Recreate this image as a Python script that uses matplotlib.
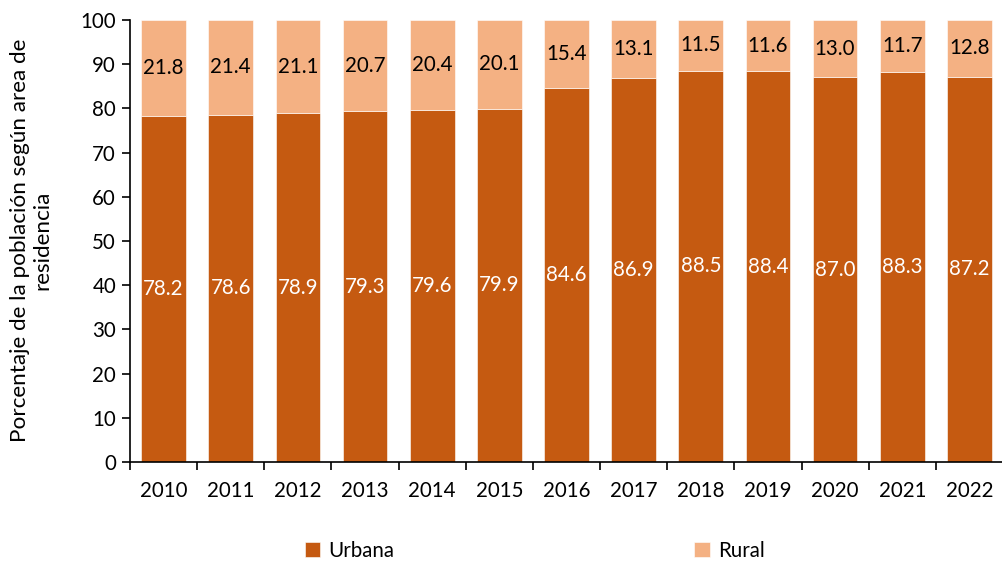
import matplotlib
matplotlib.use("Agg")
import matplotlib.pyplot as plt
import numpy as np

years = ["2010", "2011", "2012", "2013", "2014", "2015", "2016",
         "2017", "2018", "2019", "2020", "2021", "2022"]
urbana = [78.2, 78.6, 78.9, 79.3, 79.6, 79.9, 84.6, 86.9, 88.5, 88.4, 87.0, 88.3, 87.2]
rural = [21.8, 21.4, 21.1, 20.7, 20.4, 20.1, 15.4, 13.1, 11.5, 11.6, 13.0, 11.7, 12.8]

c_urb = "#C55A11"
c_rur = "#F4B183"

plt.rcParams['font.family'] = ['Lato', 'DejaVu Sans']
fs = 14.8

fig = plt.figure(figsize=(10.03, 5.64), dpi=100)
ax = fig.add_axes([130/1003, 102/564, 873/1003, 442/564])

x = np.arange(len(years))
w = 0.665
b1 = ax.bar(x, urbana, w, color=c_urb, label="Urbana", edgecolor="white", linewidth=0.4)
b2 = ax.bar(x, rural, w, bottom=urbana, color=c_rur, label="Rural", edgecolor="white", linewidth=0.4)

for xi, u, r in zip(x, urbana, rural):
    ax.text(xi, u / 2, f"{u:.1f}", ha="center", va="center", color="white", fontsize=fs)
    ax.text(xi, u + r / 2, f"{r:.1f}", ha="center", va="center", color="black", fontsize=fs)

ax.set_ylim(0, 100)
ax.set_xlim(-0.5, -0.5 + 873/67.7)
ax.set_yticks(range(0, 101, 10))
ax.set_xticks(x)
ax.set_xticklabels(years)
ax.set_xticks(np.arange(-0.5, len(years), 1), minor=True)
ax.tick_params(axis="x", which="major", length=0, pad=14, labelsize=fs)
ax.tick_params(axis="x", which="minor", length=6, width=1.2, direction="out")
ax.tick_params(axis="y", length=6, width=1.2, direction="out", labelsize=fs, pad=4)

for s in ["top", "right"]:
    ax.spines[s].set_visible(False)
for s in ["left", "bottom"]:
    ax.spines[s].set_linewidth(1.2)
    ax.spines[s].set_color("black")

fig.text(31/1003, 1 - 240/564, "Porcentaje de la población según area de\nresidencia",
         rotation=90, ha="center", va="center", fontsize=16.2, linespacing=1.15)

leg = fig.legend(handles=[b1, b2], labels=["Urbana", "Rural"], loc="center",
                 bbox_to_anchor=(0.533, 1 - 551/564), ncol=2, frameon=False,
                 fontsize=fs, handlelength=0.75, handleheight=0.75, columnspacing=14.6,
                 handletextpad=0.4)

fig.savefig("out.png", dpi=100)
